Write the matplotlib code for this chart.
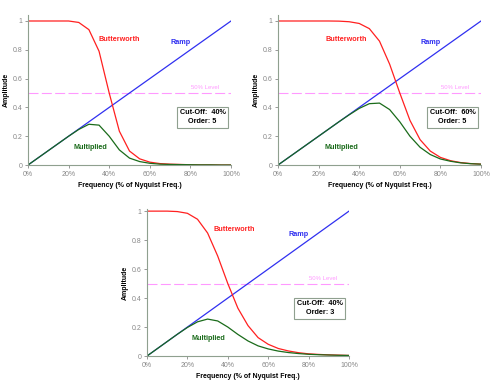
import numpy as np
import matplotlib
matplotlib.use('Agg')
import matplotlib.pyplot as plt

plt.rcParams['font.family'] = ['Liberation Sans', 'DejaVu Sans']

# frequency grid (% of Nyquist)
freq = [0, 5, 10, 15, 20, 25, 30, 35, 40, 45, 50, 55, 60, 65, 70, 75, 80, 85, 90, 95, 100]

ramp_x = [0, 100]
ramp_y = [0.0, 1.0]

# panel 1: cut-off 40%, order 5
butter_a = [1.0, 1.0, 1.0, 1.0, 1.0, 0.99, 0.94, 0.79, 0.50, 0.235, 0.097,
            0.043, 0.02, 0.01, 0.006, 0.004, 0.002, 0.001, 0.001, 0.0, 0.0]
mult_a = [0.0, 0.05, 0.10, 0.15, 0.20, 0.247, 0.283, 0.277, 0.20, 0.105, 0.048,
          0.024, 0.012, 0.006, 0.004, 0.003, 0.002, 0.001, 0.001, 0.0, 0.0]

# panel 2: cut-off 60%, order 5
butter_b = [1.0, 1.0, 1.0, 1.0, 1.0, 1.0, 0.999, 0.995, 0.983, 0.947, 0.86,
            0.70, 0.50, 0.31, 0.176, 0.097, 0.053, 0.03, 0.017, 0.01, 0.006]
mult_b = [0.0, 0.05, 0.10, 0.15, 0.20, 0.25, 0.30, 0.348, 0.393, 0.426, 0.43,
          0.385, 0.30, 0.20, 0.123, 0.073, 0.042, 0.026, 0.015, 0.009, 0.006]

# panel 3: cut-off 40%, order 3
butter_c = [1.0, 1.0, 1.0, 0.997, 0.985, 0.944, 0.849, 0.69, 0.50, 0.33, 0.21,
            0.127, 0.081, 0.052, 0.035, 0.023, 0.015, 0.011, 0.008, 0.006, 0.004]
mult_c = [0.0, 0.05, 0.10, 0.15, 0.197, 0.236, 0.255, 0.242, 0.20, 0.149, 0.104,
          0.07, 0.049, 0.034, 0.024, 0.017, 0.012, 0.009, 0.007, 0.005, 0.004]

panels = [
    # butter, mult, cutoff, order, axes rect, ylim top, label positions
    (butter_a, mult_a, 40, 5, [0.056, 0.568, 0.406, 0.394], 1.045,
     {'but': (45, 0.875), 'ramp': (75, 0.85), 'mult': (30.5, 0.125), 'box': (86, 0.33)}),
    (butter_b, mult_b, 60, 5, [0.556, 0.568, 0.406, 0.394], 1.045,
     {'but': (33.5, 0.875), 'ramp': (75, 0.85), 'mult': (31, 0.125), 'box': (86, 0.33)}),
    (butter_c, mult_c, 40, 3, [0.294, 0.068, 0.404, 0.385], 1.015,
     {'but': (43, 0.87), 'ramp': (75, 0.84), 'mult': (30.5, 0.124), 'box': (85.5, 0.33)}),
]

spine_col = '#8fa08f'
tick_col = '#888888'

fig = plt.figure(figsize=(5, 3.82), dpi=100)

for butter, mult, cutoff, order, rect, ytop, pos in panels:
    ax = fig.add_axes(rect)
    ax.axhline(0.5, color='#ff99ff', lw=0.8, dashes=(9, 3))
    ax.plot(ramp_x, ramp_y, color='#3030f0', lw=0.9)
    ax.plot(freq, butter, color='#ff2020', lw=0.9)
    ax.plot(freq, mult, color='#1a6b1a', lw=0.9)

    ax.set_xlim(0, 100)
    ax.set_ylim(0, ytop)
    ax.set_xticks([0, 20, 40, 60, 80, 100])
    ax.set_xticklabels(['0%', '20%', '40%', '60%', '80%', '100%'])
    ax.set_yticks([0, 0.2, 0.4, 0.6, 0.8, 1.0])
    ax.set_yticklabels(['0', '0.2', '0.4', '0.6', '0.8', '1'])
    ax.tick_params(labelsize=5, colors=tick_col, length=2, width=0.6, pad=2)
    for s in ['top', 'right']:
        ax.spines[s].set_visible(False)
    for s in ['left', 'bottom']:
        ax.spines[s].set_color(spine_col)
        ax.spines[s].set_linewidth(0.8)

    ax.set_xlabel('Frequency (% of Nyquist Freq.)', fontsize=5, fontweight='bold', labelpad=3)
    ax.set_ylabel('Amplitude', fontsize=5, fontweight='bold', labelpad=2)

    ax.text(*pos['but'], 'Butterworth', color='#ff2020', fontsize=5.2, fontweight='bold',
            ha='center', va='center')
    ax.text(*pos['ramp'], 'Ramp', color='#3030f0', fontsize=5.2, fontweight='bold',
            ha='center', va='center')
    ax.text(87, 0.535, '50% Level', color='#ff99ff', fontsize=4.3, ha='center', va='center')
    ax.text(*pos['mult'], 'Multiplied', color='#1a6b1a', fontsize=5.2, fontweight='bold',
            ha='center', va='center')
    ax.text(*pos['box'], 'Cut-Off:  %d%%\nOrder: %d' % (cutoff, order), fontsize=5.2,
            fontweight='bold', ha='center', va='center', linespacing=1.4,
            bbox=dict(boxstyle='square,pad=0.35', fc='white', ec=spine_col, lw=0.8))

plt.savefig('out.png', dpi=100)
